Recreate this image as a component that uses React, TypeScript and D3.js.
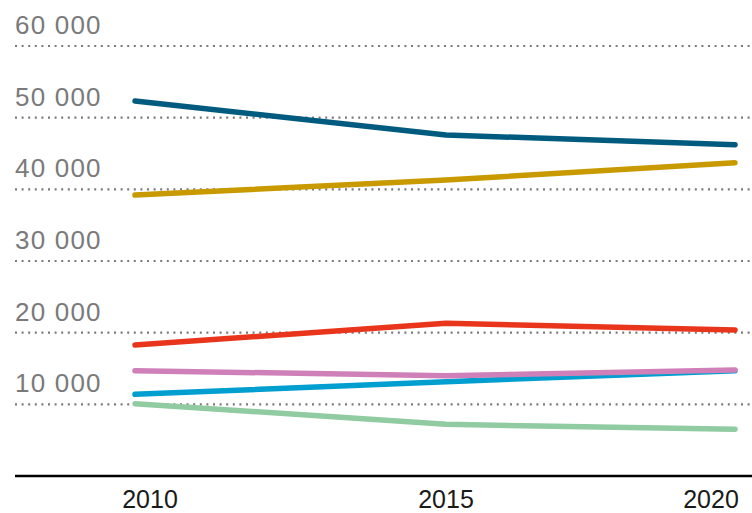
import React from "react";
import * as d3 from "d3";

const years = [2010, 2015, 2020];
const yTicks = [10000, 20000, 30000, 40000, 50000, 60000];
const yTickLabels = ["10 000", "20 000", "30 000", "40 000", "50 000", "60 000"];
const xTickLabels = ["2010", "2015", "2020"];

const seriesNames = ["lightblue", "pink", "green", "red", "gold", "darkblue"];
const darkBlue = [52330, 47580, 46230];
const gold = [39210, 41300, 43720];
const red = [18280, 21300, 20370];
const pink = [14690, 14000, 14790];
const lightBlue = [11400, 13160, 14700];
const green = [10090, 7210, 6520];

const seriesValues = [lightBlue, pink, green, red, gold, darkBlue];
const seriesColors = ["#009fd0", "#cf80b8", "#91cba2", "#e8351c", "#c99a00", "#005b7f"];

const W = 752;
const H = 513;

export default function App() {
  const x = d3.scaleLinear().domain([2010, 2015, 2020]).range([135, 446, 735]);
  const y = d3.scaleLinear().domain([0, 60000]).range([476, 46]);
  const labelX = (yr: number) => Math.min(Math.max(x(yr), 150), 711);
  const line = d3
    .line<number>()
    .x((_, i) => x(years[i]))
    .y((v) => y(v));

  return (
    <svg
      width={W}
      height={H}
      style={{ position: "absolute", left: 0, top: 0, background: "#fff" }}
    >
      {yTicks.map((t, i) => (
        <g key={t}>
          <line
            x1={15}
            x2={W}
            y1={y(t)}
            y2={y(t)}
            stroke="#7a7a7a"
            strokeWidth={2.2}
            strokeDasharray="2 4.6"
          />
          <text
            x={15}
            y={y(t) - 12}
            fontFamily="'Liberation Sans', Arial, sans-serif"
            fontSize={26}
            letterSpacing={1.2}
            fill="#7a7a7a"
          >
            {yTickLabels[i]}
          </text>
        </g>
      ))}
      <line x1={15} x2={W} y1={y(0)} y2={y(0)} stroke="#000" strokeWidth={2.6} />
      {seriesValues.map((vals, i) => (
        <path
          key={seriesNames[i]}
          d={line(vals) || ""}
          fill="none"
          stroke={seriesColors[i]}
          strokeWidth={5.5}
          strokeLinecap="round"
          strokeLinejoin="round"
        />
      ))}
      {years.map((yr, i) => (
        <text
          key={yr}
          x={labelX(yr)}
          y={508}
          textAnchor="middle"
          fontFamily="'Liberation Sans', Arial, sans-serif"
          fontSize={25}
          fill="#1a1a1a"
        >
          {xTickLabels[i]}
        </text>
      ))}
    </svg>
  );
}
